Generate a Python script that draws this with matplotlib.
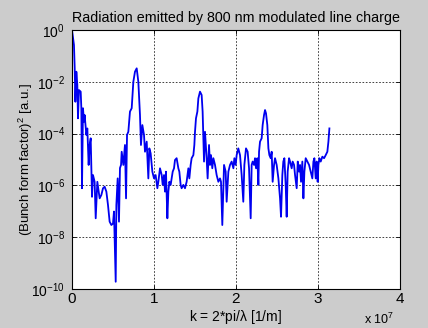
import numpy as np
import matplotlib
matplotlib.use("Agg")
import matplotlib.pyplot as plt
from matplotlib.ticker import FixedLocator, NullLocator

plt.rcParams['font.family'] = ['Liberation Sans', 'DejaVu Sans']
plt.rcParams['mathtext.fontset'] = 'custom'
plt.rcParams['mathtext.rm'] = 'Liberation Sans'
plt.rcParams['mathtext.default'] = 'regular'

# wavenumber k in units of 1e7 1/m
k_scaled = [
    0.000, 0.024, 0.033, 0.041, 0.053, 0.065, 0.073, 0.085, 0.106, 0.114,
    0.122, 0.134, 0.146, 0.154, 0.175, 0.187, 0.203, 0.215, 0.228, 0.244,
    0.256, 0.276, 0.289, 0.309, 0.325, 0.337, 0.358, 0.378, 0.398, 0.419,
    0.439, 0.459, 0.480, 0.500, 0.512, 0.533, 0.541,
    0.557, 0.573, 0.585, 0.598, 0.606, 0.626, 0.646, 0.659, 0.671, 0.687,
    0.707, 0.728, 0.748, 0.768, 0.789, 0.809, 0.829, 0.841, 0.858, 0.878,
    0.890, 0.911, 0.931, 0.943, 0.959, 0.980, 1.000, 1.020, 1.041, 1.053,
    1.073, 1.094,
    1.106, 1.122, 1.134, 1.146, 1.155, 1.163, 1.175, 1.187, 1.203, 1.228,
    1.244, 1.256, 1.276, 1.297, 1.309, 1.325, 1.337, 1.358, 1.378, 1.398,
    1.419, 1.431, 1.447, 1.459, 1.480, 1.492, 1.500, 1.512, 1.529, 1.541,
    1.561, 1.581, 1.593, 1.610, 1.622, 1.642, 1.654, 1.671, 1.683, 1.695,
    1.711, 1.724, 1.744, 1.764, 1.785, 1.805, 1.817, 1.833, 1.854, 1.874,
    1.886, 1.907, 1.927, 1.947, 1.968, 1.980, 1.996, 2.008, 2.028, 2.049,
    2.069, 2.089, 2.102, 2.122, 2.142, 2.159, 2.179, 2.191, 2.203, 2.220,
    2.232, 2.244, 2.260, 2.273, 2.281, 2.293, 2.313, 2.325, 2.342, 2.354,
    2.366, 2.382, 2.395, 2.407, 2.423, 2.435, 2.447, 2.464, 2.476, 2.496,
    2.517, 2.537, 2.549, 2.565, 2.577, 2.590, 2.606, 2.618, 2.630, 2.647,
    2.659, 2.679, 2.691, 2.708, 2.720, 2.740, 2.753, 2.769, 2.781, 2.793,
    2.809, 2.822, 2.834, 2.850, 2.870, 2.891, 2.911, 2.931, 2.944, 2.956,
    2.972, 2.984, 2.996, 3.005, 3.017, 3.033, 3.053, 3.074, 3.094, 3.114,
    3.127, 3.139,
]

# log10 of the squared bunch form factor
log_ff = [
    0.00, -0.58, -1.48, -2.77, -1.61, -2.12, -3.41, -2.32, -2.38, -3.02,
    -6.11, -3.02, -3.54, -3.28, -4.05, -3.80, -5.21, -4.44, -4.18, -6.44,
    -5.60, -5.86, -7.27, -5.86, -6.24, -6.50, -6.37, -6.11, -6.05, -6.24,
    -6.76, -7.40, -7.53, -7.47, -7.01, -9.72, -6.76,
    -5.73, -7.40, -5.33, -5.21, -4.70, -5.21, -4.44, -6.50, -4.05, -3.93,
    -3.15, -3.02, -2.00, -1.61, -1.48, -2.00, -3.28, -4.44, -3.67, -4.05,
    -4.70, -4.31, -5.73, -4.57, -4.76, -5.47, -5.73, -5.60, -6.11, -5.86,
    -5.34, -5.60,
    -5.98, -5.60, -6.24, -5.47, -6.50, -7.27, -6.24, -5.86, -5.98, -5.47,
    -5.34, -5.02, -4.95, -5.34, -5.47, -5.98, -6.11, -5.98, -6.11, -5.86,
    -5.34, -5.73, -5.21, -4.95, -4.83, -4.44, -3.93, -3.41, -3.15, -2.64,
    -2.38, -2.51, -3.15, -5.08, -3.93, -4.95, -5.73, -4.44, -5.21, -4.83,
    -5.34, -4.95, -5.21, -5.60, -5.86, -5.73, -5.86, -7.53, -5.21, -5.47,
    -6.63, -5.47, -5.21, -5.08, -5.34, -4.95, -5.21, -4.83, -4.57, -4.83,
    -5.60, -6.63, -5.21, -4.57, -4.70, -5.34, -7.27, -5.21, -5.08, -5.21,
    -4.95, -5.34, -4.95, -5.98, -4.70, -4.31, -4.18, -3.67, -3.28, -3.09,
    -3.22, -3.67, -4.57, -4.83, -4.95, -4.70, -5.86, -5.21, -4.95, -5.21,
    -5.73, -6.50, -7.21, -5.60, -5.08, -4.95, -5.98, -7.21, -5.47, -4.95,
    -5.08, -5.34, -5.08, -5.21, -5.60, -6.11, -5.08, -5.47, -5.21, -5.86,
    -5.08, -6.50, -5.47, -4.95, -5.08, -5.21, -5.47, -5.73, -5.08, -4.95,
    -5.73, -5.08, -5.86, -5.21, -4.95, -5.08, -4.89, -4.95, -4.83, -4.70,
    -4.31, -3.80,
]

x_ticks = [0, 1, 2, 3, 4]
y_ticks = [1e-10, 1e-8, 1e-6, 1e-4, 1e-2, 1e0]

fig = plt.figure(figsize=(4.28, 3.28), dpi=100, facecolor='#cccccc')
ax = fig.add_axes([72 / 428, 39 / 328, 328 / 428, 259 / 328])
ax.set_facecolor('white')

ax.semilogy(k_scaled, 10.0 ** np.array(log_ff), color='#0000f0', linewidth=1.3)

ax.set_xlim(0, 4)
ax.set_ylim(1e-10, 1e0)
ax.xaxis.set_major_locator(FixedLocator(x_ticks))
ax.yaxis.set_major_locator(FixedLocator(y_ticks))
ax.yaxis.set_minor_locator(NullLocator())
ax.set_xticklabels([str(t) for t in x_ticks])

ax.grid(True, which='major', color='#222222', linestyle=(0, (2, 2)), linewidth=0.6)
ax.tick_params(direction='in', length=3, width=0.6, top=True, right=True,
               colors='black')
ax.tick_params(axis='y', pad=5, labelsize=10)
ax.tick_params(axis='x', pad=2, labelsize=11)
for s in ax.spines.values():
    s.set_linewidth(0.8)
    s.set_color('black')

ax.set_title('Radiation emitted by 800 nm modulated line charge', fontsize=10.3, pad=6)
ax.set_xlabel(r'k = 2*pi/$\lambda$ [1/m]', fontsize=10)
ax.xaxis.set_label_coords(0.5, -0.074)
ax.set_ylabel(r'(Bunch form factor)$^2$ [a.u.]', fontsize=9.5)
ax.yaxis.set_label_coords(-0.113, 0.5)
fig.text(364 / 428, 1 - 319 / 328, r'x $10^7$', fontsize=9, va='center', ha='left')

fig.savefig('out.png', dpi=100, facecolor=fig.get_facecolor())
